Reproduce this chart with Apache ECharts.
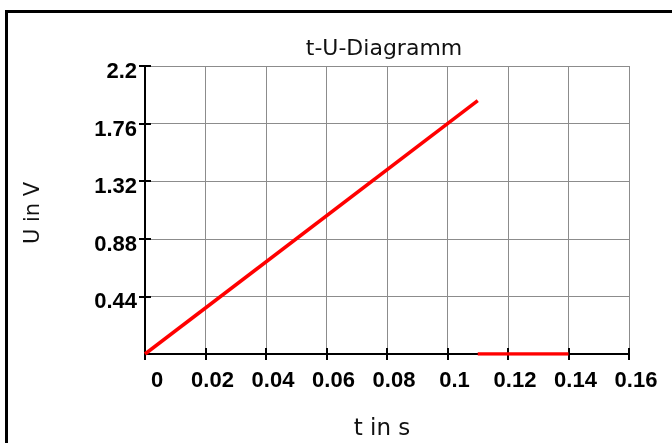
<!DOCTYPE html>
<html>
<head>
<meta charset="utf-8">
<script src="https://cdn.jsdelivr.net/npm/echarts@6/dist/echarts.min.js"></script>
<style>
html,body{margin:0;padding:0;background:#fff;}
#chart{width:672px;height:443px;}
</style>
</head>
<body>
<div id="chart"></div>
<script>
// Data
const rampTime = [0, 0.11];
const rampVoltage = [0, 1.936];
const offTime = [0.11, 0.14];
const offVoltage = [0, 0];
const xMin = 0, xMax = 0.16, xStep = 0.02;
const yMin = 0, yMax = 2.2, yStep = 0.44;

const FONT = '"Liberation Sans", Arial, sans-serif';
const NAMEFONT = '"DejaVu Sans", "Liberation Sans", sans-serif';
const chart = echarts.init(document.getElementById('chart'));

const rampData = rampTime.map((t, i) => [t, rampVoltage[i]]);
const offData = offTime.map((t, i) => [t, offVoltage[i]]);

const gridLine = { show: true, lineStyle: { color: '#8c8c8c', width: 1 } };

chart.setOption({
  animation: false,
  backgroundColor: '#fff',
  title: {
    text: 't-U-Diagramm',
    left: 379, top: 33, textAlign: 'center',
    textStyle: { fontFamily: NAMEFONT, fontSize: 22, fontWeight: 'normal', color: '#111' }
  },
  grid: { left: 145, top: 66, width: 484, height: 288, outerBoundsMode: 'none', containLabel: false },
  xAxis: [{
    type: 'value', min: xMin, max: xMax, interval: xStep, position: 'bottom',
    name: 't in s', nameLocation: 'middle', nameGap: 64,
    nameTextStyle: { fontFamily: NAMEFONT, fontSize: 23, color: '#111', padding: [0, 10, 0, 0] },
    axisLine: { show: true, onZero: false, lineStyle: { color: '#000', width: 2 } },
    axisTick: { show: true, length: 6, lineStyle: { color: '#000', width: 2 } },
    axisLabel: {
      margin: 16, fontFamily: FONT, fontSize: 22, fontWeight: 'bold', color: '#000',
      padding: [0, 0, 0, 14],
      formatter: v => v === 0 ? '{z|0}' : String(+v.toFixed(2)),
      rich: { z: { fontFamily: FONT, fontSize: 22, fontWeight: 'bold', color: '#000', padding: [0, 0, 0, 10] } }
    },
    splitLine: gridLine
  }, {
    type: 'value', min: xMin, max: xMax, interval: xStep, position: 'bottom',
    axisLine: { show: false },
    axisTick: { show: true, inside: true, length: 6, lineStyle: { color: '#000', width: 2 } },
    axisLabel: { show: false }, splitLine: { show: false }
  }],
  yAxis: [{
    type: 'value', min: yMin, max: yMax, interval: yStep, position: 'left',
    name: 'U in V', nameLocation: 'middle', nameGap: 101, nameRotate: 90,
    nameTextStyle: { fontFamily: NAMEFONT, fontSize: 21, color: '#111', padding: [0, 6, 0, 0] },
    axisLine: { show: true, onZero: false, lineStyle: { color: '#000', width: 2 } },
    axisTick: { show: true, length: 6, lineStyle: { color: '#000', width: 2 } },
    axisLabel: {
      margin: 8, fontFamily: FONT, fontSize: 22, fontWeight: 'bold', color: '#000',
      verticalAlign: 'top', lineHeight: 12, showMinLabel: false,
      formatter: v => v === 0 ? '' : String(+v.toFixed(2))
    },
    splitLine: gridLine
  }, {
    type: 'value', min: yMin, max: yMax, interval: yStep, position: 'left',
    axisLine: { show: false },
    axisTick: { show: true, inside: true, length: 6, lineStyle: { color: '#000', width: 2 } },
    axisLabel: { show: false }, splitLine: { show: false }
  }],
  series: [{
    type: 'line', data: rampData, showSymbol: false, symbol: 'none',
    lineStyle: { color: '#ff0000', width: 3.5 }, z: 5
  }, {
    type: 'line', data: offData, showSymbol: false, symbol: 'none',
    lineStyle: { color: '#ff0000', width: 3.5 }, z: 5
  }],
  graphic: [
    { type: 'line', shape: { x1: 5, y1: 11.5, x2: 672, y2: 11.5 }, style: { stroke: '#000', lineWidth: 3 }, silent: true },
    { type: 'line', shape: { x1: 6.5, y1: 10, x2: 6.5, y2: 443 }, style: { stroke: '#000', lineWidth: 3 }, silent: true }
  ]
});
</script>
</body>
</html>
